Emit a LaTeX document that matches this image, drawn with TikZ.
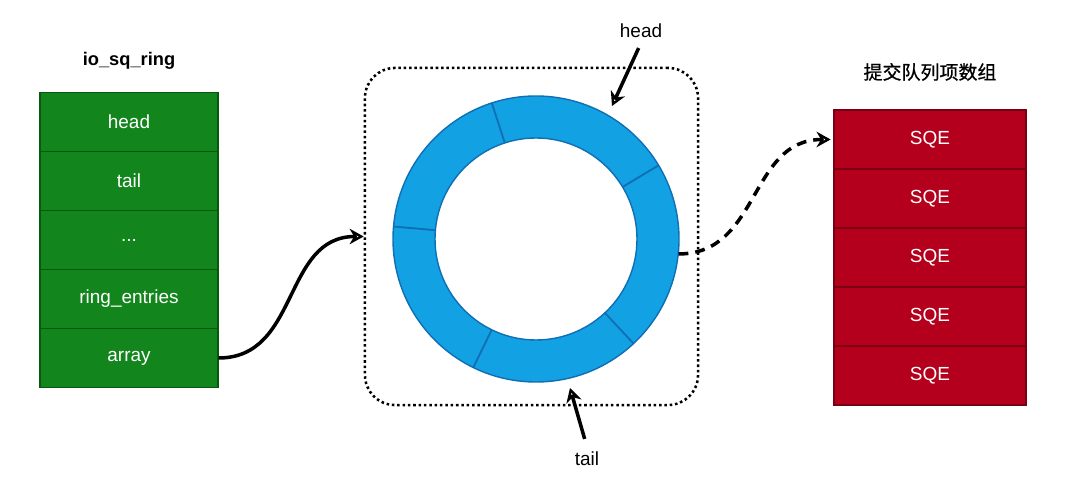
\documentclass[tikz,border=0pt]{standalone}
\usepackage{fontspec}
\setmainfont{Liberation Sans}
\newfontfamily\cjk[FakeBold=0.8]{Noto Sans CJK SC}
\usetikzlibrary{arrows.meta}

\definecolor{sqgreen}{RGB}{18,134,28}
\definecolor{sqgreenedge}{RGB}{8,88,16}
\definecolor{sqered}{RGB}{180,0,28}
\definecolor{sqerededge}{RGB}{120,0,18}
\definecolor{ringblue}{RGB}{18,162,228}
\definecolor{ringedge}{RGB}{16,110,180}

\tikzset{
  cell/.style={draw=sqgreenedge,fill=sqgreen,text=white,line width=0.8pt,
    minimum width=4.45cm,minimum height=1.475cm,inner sep=0pt,
    font=\fontsize{13.5}{16}\selectfont},
  sqecell/.style={cell,draw=sqerededge,fill=sqered,minimum width=4.8cm},
  title/.style={font=\fontsize{13}{16}\selectfont\bfseries},
  pointer/.style={line width=2.5pt,-{Stealth[open,length=10pt,width=11pt]}},
}

\begin{document}
\begin{tikzpicture}[x=0.025cm,y=0.025cm]
\useasboundingbox (0,0) rectangle (1080,492);
% io_sq_ring
 \node[title] (sqtitle) at (129,431) {io\_sq\_ring};
 \foreach \y/\t/\n in {370/head/sqhead,311/tail/sqtail,
   193/ring\_entries/sqentries,134/array/sqarray}
   \node[cell] (\n) at (129,\y) {\t};
 \node[cell] (sqdots) at (129,252) {.{}.{}.};
% ring
 \node[draw,dotted,line width=1.8pt,rounded corners=0.75cm,
   minimum width=8.325cm,minimum height=8.425cm] (box) at (531.5,255.5) {};
 \node[circle,minimum size=7.15cm,inner sep=0pt] (ring) at (536,253) {};
\begin{scope}[shift={(ring.center)}]
 \fill[ringblue,even odd rule] (0,0) circle[radius=143] circle[radius=101];
 \draw[ringedge,line width=1pt] (0,0) circle[radius=143];
 \draw[ringedge,line width=1pt] (0,0) circle[radius=101];
 \foreach \a in {108,31,-47,-116,175}
   \draw[ringedge,line width=1.3pt] (\a:101)--(\a:143);
 \coordinate (headptr) at (76,133);
 \coordinate (tailptr) at (34,-149);
\end{scope}
 \node[font=\fontsize{13.5}{16}\selectfont] (headlbl) at (641,461) {head};
 \node[font=\fontsize{13.5}{16}\selectfont] (taillbl) at (587,33) {tail};
 \draw[pointer,shorten <=4pt] (headlbl.south)--(headptr);
 \draw[pointer,shorten <=6pt] (taillbl.north)--(tailptr);
% sqe array
 \node[font=\fontsize{13.5}{16}\selectfont\cjk] (sqetitle) at (930,420) {提交队列项数组};
 \foreach \i/\y in {1/352.5,2/293.5,3/234.5,4/175.5,5/116.5}
   \node[sqecell] (sqe\i) at (930,\y) {SQE};
% links
 \draw[pointer] (sqarray.east) to[out=0,in=180,looseness=1.1] (box.west);
 \draw[pointer,dashed,dash pattern=on 7pt off 5pt] (ring.-6) to[out=0,in=180,looseness=1.1] ([xshift=-2pt]sqe1.west);
\end{tikzpicture}
\end{document}
